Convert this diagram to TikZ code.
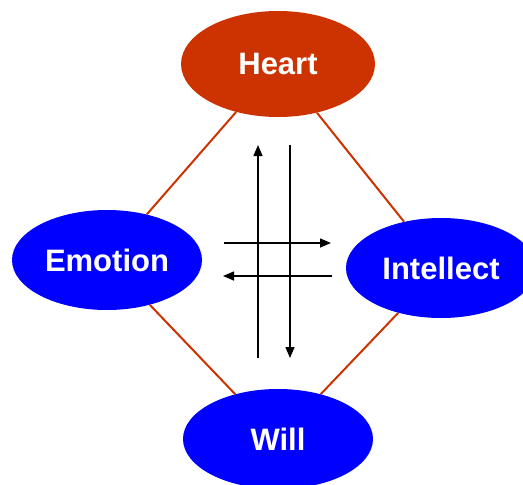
\documentclass[tikz,border=0pt]{standalone}
\usepackage{fontspec}
\setmainfont{Liberation Sans}
\usetikzlibrary{shapes.geometric,arrows.meta}
\definecolor{heartred}{HTML}{CC3300}
\definecolor{pureblue}{HTML}{0000FF}
\tikzset{
  blob/.style={ellipse, inner sep=0pt, minimum width=192pt, minimum height=102pt,
    text=white, font=\bfseries\fontsize{31}{31}\selectfont},
  redblob/.style={blob, fill=heartred},
  blueblob/.style={blob, fill=pureblue},
  link/.style={draw=heartred, line width=2pt},
  flow/.style={draw=black, line width=1.5pt, -{Triangle[length=11pt,width=9pt]}}
}
\begin{document}
\begin{tikzpicture}[x=1pt,y=-1pt]
\useasboundingbox (0,0) rectangle (523,485);
\clip (0,0) rectangle (523,485);
\fill[white] (0,0) rectangle (523,485);
\node[redblob, minimum width=194pt, minimum height=106pt] (heart) at (278,64) {Heart};
\node[blueblob, minimum width=190pt, minimum height=100pt] (emotion) at (107,260) {Emotion};
\node[blueblob, minimum width=190pt, minimum height=100pt] (intellect) at (441,268) {Intellect};
\node[blueblob, minimum width=190pt, minimum height=100pt] (will) at (278,439) {Will};
\draw[link] (heart) -- (emotion);
\draw[link] (heart) -- (intellect);
\draw[link] (emotion) -- (will);
\draw[link] (intellect) -- (will);
\coordinate (upS) at (258,358);
\coordinate (upE) at (258,145);
\coordinate (dnS) at (290,145);
\coordinate (dnE) at (290,358);
\coordinate (rtS) at (224,243);
\coordinate (rtE) at (331,243);
\coordinate (ltS) at (332,276);
\coordinate (ltE) at (223,276);
\draw[flow] (upS) -- (upE);
\draw[flow] (dnS) -- (dnE);
\draw[flow] (rtS) -- (rtE);
\draw[flow] (ltS) -- (ltE);
\end{tikzpicture}
\end{document}
